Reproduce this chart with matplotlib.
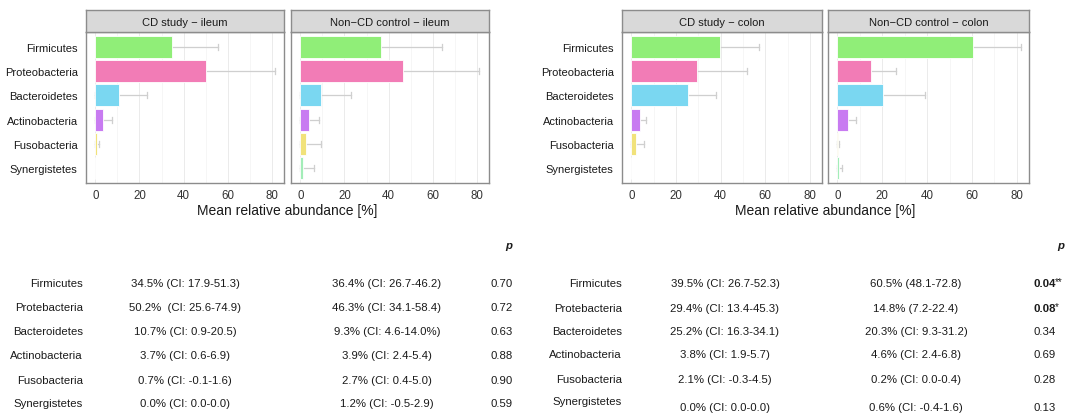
import matplotlib
matplotlib.use("Agg")
import matplotlib.pyplot as plt

plt.rcParams['font.family'] = ['Liberation Sans', 'DejaVu Sans']

phyla = ["Firmicutes", "Proteobacteria", "Bacteroidetes",
         "Actinobacteria", "Fusobacteria", "Synergistetes"]
colors = ["#90EE78", "#F27CB6", "#7AD7F1", "#C87BF1", "#F1E27A", "#A3EDB8"]

panel_titles = ["CD study \u2212 ileum", "Non\u2212CD control \u2212 ileum",
                "CD study \u2212 colon", "Non\u2212CD control \u2212 colon"]

# mean relative abundance [%] and spread for each group
mean_cd_ileum = [34.5, 50.2, 10.7, 3.7, 0.7, 0.0]
sd_cd_ileum = [21.0, 31.0, 12.7, 3.9, 1.2, 0.0]
mean_ctrl_ileum = [36.4, 46.3, 9.3, 3.9, 2.7, 1.2]
sd_ctrl_ileum = [27.7, 34.6, 13.6, 4.5, 6.7, 5.0]
mean_cd_colon = [39.5, 29.4, 25.2, 3.8, 2.1, 0.0]
sd_cd_colon = [17.7, 22.4, 12.6, 2.6, 3.5, 0.0]
mean_ctrl_colon = [60.5, 14.8, 20.3, 4.6, 0.2, 0.6]
sd_ctrl_colon = [21.2, 11.3, 18.6, 3.8, 0.5, 1.5]

# summary table
table_rows = ["Firmicutes", "Protebacteria", "Bacteroidetes",
              "Actinobacteria", "Fusobacteria", "Synergistetes"]
ileum_cd_txt = ["34.5% (CI: 17.9-51.3)", "50.2%  (CI: 25.6-74.9)",
                "10.7% (CI: 0.9-20.5)", "3.7% (CI: 0.6-6.9)",
                "0.7% (CI: -0.1-1.6)", "0.0% (CI: 0.0-0.0)"]
ileum_ctrl_txt = ["36.4% (CI: 26.7-46.2)", "46.3% (CI: 34.1-58.4)",
                  "9.3% (CI: 4.6-14.0%)", "3.9% (CI: 2.4-5.4)",
                  "2.7% (CI: 0.4-5.0)", "1.2% (CI: -0.5-2.9)"]
ileum_p = ["0.70", "0.72", "0.63", "0.88", "0.90", "0.59"]
colon_cd_txt = ["39.5% (CI: 26.7-52.3)", "29.4% (CI: 13.4-45.3)",
                "25.2% (CI: 16.3-34.1)", "3.8% (CI: 1.9-5.7)",
                "2.1% (CI: -0.3-4.5)", "0.0% (CI: 0.0-0.0)"]
colon_ctrl_txt = ["60.5% (48.1-72.8)", "14.8% (7.2-22.4)",
                  "20.3% (CI: 9.3-31.2)", "4.6% (CI: 2.4-6.8)",
                  "0.2% (CI: 0.0-0.4)", "0.6% (CI: -0.4-1.6)"]
colon_p = ["0.04", "0.08", "0.34", "0.69", "0.28", "0.13"]
colon_stars = ["**", "*", "", "", "", ""]

W, H = 1067, 414
fig = plt.figure(figsize=(W / 100, H / 100), dpi=100)

BORDER = "#8C8C8C"
TXT = "#1A1A1A"


def px_axes(x0, y0, x1, y1):
    return fig.add_axes([x0 / W, 1 - y1 / H, (x1 - x0) / W, (y1 - y0) / H])


def panel(x0, x1, title, means, sds, show_labels):
    ax = px_axes(x0, 33, x1, 184)
    y = [6 - i for i in range(len(phyla))]
    lo = [max(0.0, m - s) for m, s in zip(means, sds)]
    hi = [m + s for m, s in zip(means, sds)]
    for yi, l, h in zip(y, lo, hi):
        if h - l <= 0:
            continue
        ax.plot([l, h], [yi, yi], color="#CFCFCF", lw=0.9, zorder=1)
        for xe in (l, h):
            ax.plot([xe, xe], [yi - 0.12, yi + 0.12], color="#CFCFCF",
                    lw=0.9, zorder=1)
    ax.barh(y, means, height=0.9, color=colors, edgecolor="white",
            linewidth=0.6, zorder=2)
    ax.set_xlim(-4.2, 85.4)
    ax.set_ylim(0.4, 6.6)
    ax.set_xticks([0, 20, 40, 60, 80])
    ax.set_xticks([10, 30, 50, 70], minor=True)
    ax.grid(True, axis="x", which="major", color="#EBEBEB", lw=0.7, zorder=0)
    ax.grid(True, axis="x", which="minor", color="#F3F3F3", lw=0.5, zorder=0)
    ax.set_axisbelow(True)
    ax.set_yticks(y)
    if show_labels:
        ax.set_yticklabels(phyla, fontsize=8, color=TXT)
    else:
        ax.set_yticklabels([])
    ax.tick_params(axis="x", labelsize=8.3, colors="#333333", length=0, pad=4)
    ax.tick_params(axis="x", which="minor", length=0)
    ax.tick_params(axis="y", length=0, pad=6)
    for s in ax.spines.values():
        s.set_color(BORDER)
        s.set_linewidth(1.0)
    # facet strip
    sx = px_axes(x0, 11, x1, 33)
    sx.set_xticks([])
    sx.set_yticks([])
    sx.set_facecolor("#D9D9D9")
    for s in sx.spines.values():
        s.set_color(BORDER)
        s.set_linewidth(1.0)
    sx.text(0.5, 0.47, title, ha="center", va="center", fontsize=8,
            color=TXT, transform=sx.transAxes)
    return ax


panel(86, 284, panel_titles[0], mean_cd_ileum, sd_cd_ileum, True)
panel(291, 489, panel_titles[1], mean_ctrl_ileum, sd_ctrl_ileum, False)
panel(622, 822, panel_titles[2], mean_cd_colon, sd_cd_colon, True)
panel(828, 1029, panel_titles[3], mean_ctrl_colon, sd_ctrl_colon, False)

fig.text(287.5 / W, 1 - 211 / H, "Mean relative abundance [%]",
         ha="center", va="center", fontsize=10, color=TXT)
fig.text(825.5 / W, 1 - 211 / H, "Mean relative abundance [%]",
         ha="center", va="center", fontsize=10, color=TXT)


def ftext(x, y, s, **kw):
    kw.setdefault("fontsize", 8.2)
    kw.setdefault("color", TXT)
    kw.setdefault("va", "center")
    fig.text(x / W, 1 - y / H, s, **kw)


# ileum table
ileum_y = [284, 308, 332, 356, 381, 404]
ftext(512, 246, "p", ha="right", fontweight="bold", fontstyle="italic")
for yy, name, a, b, p in zip(ileum_y, table_rows, ileum_cd_txt,
                             ileum_ctrl_txt, ileum_p):
    ftext(83, yy, name, ha="right")
    ftext(185, yy, a, ha="center")
    ftext(387, yy, b, ha="center")
    ftext(502, yy, p, ha="center")

# colon table
colon_y = [284, 309, 332, 355, 380, 408]
ftext(1064, 246, "p", ha="right", fontweight="bold", fontstyle="italic")
for i, (yy, name, a, b, p, st) in enumerate(zip(colon_y, table_rows,
                                                colon_cd_txt, colon_ctrl_txt,
                                                colon_p, colon_stars)):
    ftext(622, 402 if i == 5 else yy, name, ha="right")
    ftext(725, yy, a, ha="center")
    ftext(916, yy, b, ha="center")
    if st:
        ftext(1033, yy, p, ha="left", fontweight="bold")
        ftext(1055, yy - 2, st, ha="left", fontsize=7)
    else:
        ftext(1033, yy, p, ha="left")

fig.savefig("out.png", dpi=100, facecolor="white")
